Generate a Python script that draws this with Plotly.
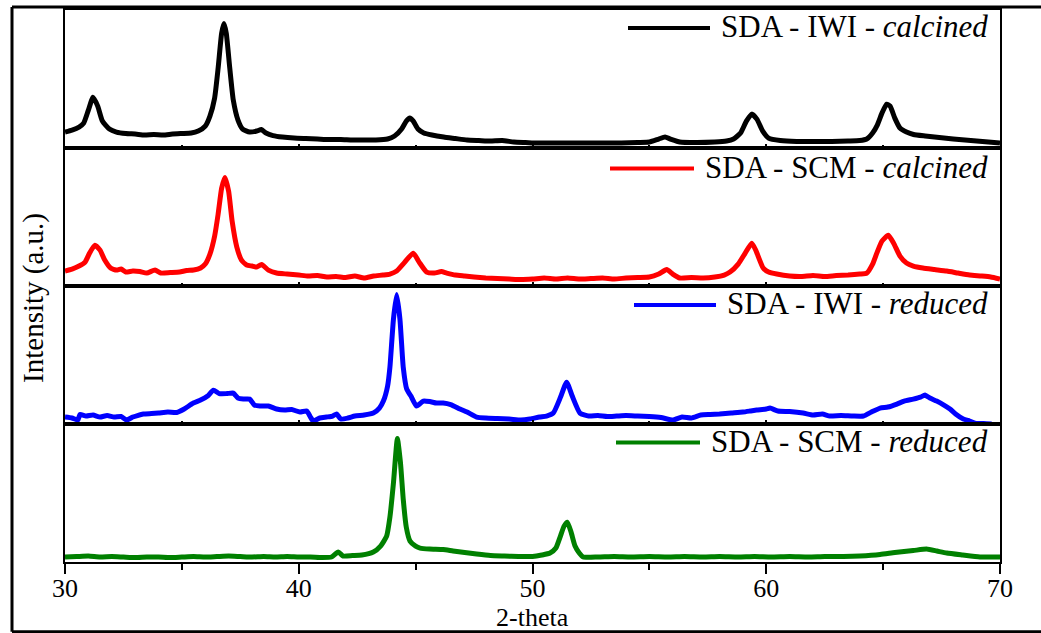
import plotly.graph_objects as go
from plotly.subplots import make_subplots

# ---------------- data (2-theta, intensity a.u.) ----------------
iwi_cal_x = [30.0, 30.3, 30.6, 30.8, 31.0, 31.2, 31.4, 31.6, 31.9, 32.2, 32.6, 33.0, 33.4, 33.8, 34.2, 34.6,
             35.0, 35.4, 35.7, 36.0, 36.2, 36.4, 36.55, 36.7, 36.8, 36.9, 37.05, 37.2, 37.4, 37.6, 37.9, 38.2,
             38.4, 38.6, 38.9, 39.3, 39.8, 40.3, 40.8, 41.3, 41.8, 42.3, 42.8, 43.3, 43.8, 44.1, 44.4, 44.6,
             44.75, 44.9, 45.1, 45.35, 45.7, 46.2, 46.7, 47.2, 47.7, 48.2, 48.7, 49.2, 49.7, 50.2, 50.8, 51.5,
             52.2, 53.0, 53.8, 54.5, 55.0, 55.4, 55.67, 55.9, 56.3, 57.0, 57.8, 58.3, 58.6, 58.9, 59.15, 59.38,
             59.6, 59.85, 60.1, 60.6, 61.3, 62.0, 62.8, 63.5, 64.0, 64.3, 64.55, 64.75, 64.95, 65.15, 65.3, 65.5,
             65.72, 66.0, 66.3, 66.8, 67.4, 68.0, 68.5, 69.0, 69.5, 70.0]
iwi_cal_y = [16, 18, 21, 25, 38, 51, 42, 27, 19, 16, 14.5, 14, 13, 13.5, 13, 14,
             14.5, 15, 17, 22, 32, 50, 80, 115, 125, 115, 80, 48, 28, 19, 16, 17,
             18.5, 15, 12.5, 11, 10, 9.5, 9, 8.5, 8.5, 8, 8, 8, 9, 12, 19, 27,
             30, 27, 19, 15, 13, 11, 9.5, 8, 7.5, 7, 7.5, 6, 5.5, 5, 5, 5,
             5, 5, 5, 5.5, 6, 9, 11, 9, 6, 5.5, 6, 7, 9, 15, 27, 34,
             29, 17, 10, 7.5, 6.5, 6.5, 6.5, 7, 7.5, 9, 15, 23, 35, 44, 42, 30,
             20, 16, 13.5, 12, 10.5, 9, 8, 7, 6, 5]

scm_cal_x = [30.0, 30.3, 30.6, 30.86, 31.05, 31.28, 31.5, 31.7, 31.95, 32.2, 32.4, 32.6, 32.9, 33.2, 33.5, 33.85,
             34.1, 34.5, 34.9, 35.2, 35.5, 35.8, 36.0, 36.2, 36.4, 36.55, 36.7, 36.84, 37.0, 37.15, 37.35, 37.55,
             37.77, 38.0, 38.2, 38.41, 38.7, 39.05, 39.5, 40.0, 40.4, 40.8, 41.2, 41.6, 42.0, 42.4, 42.8, 43.2,
             43.6, 43.9, 44.19, 44.5, 44.9, 45.15, 45.47, 45.8, 46.1, 46.33, 46.7, 47.1, 47.5, 48.0, 48.5, 49.0,
             49.5, 50.0, 50.5, 51.0, 51.5, 52.0, 52.5, 53.0, 53.5, 54.0, 54.5, 55.0, 55.4, 55.74, 56.0, 56.3,
             56.8, 57.3, 57.8, 58.2, 58.45, 58.8, 59.1, 59.38, 59.55, 59.87, 60.1, 60.45, 61.0, 61.5, 62.0, 62.5,
             63.0, 63.5, 64.0, 64.3, 64.55, 64.73, 64.95, 65.22, 65.45, 65.72, 66.0, 66.29, 66.7, 67.2, 67.72, 68.2,
             68.7, 69.2, 69.6, 70.0]
scm_cal_y = [15, 17, 20, 24, 33, 41, 36, 26, 18, 16, 17, 14, 15, 14.5, 13, 16,
             13, 13.5, 14, 15.5, 16, 18, 22, 32, 50, 72, 98, 109, 95, 65, 39, 26,
             21, 20, 19, 21.5, 16, 13, 12, 11, 10, 10.5, 9, 9.5, 8.5, 10, 8, 10,
             11, 12, 15, 23, 33, 24, 14, 13, 14.5, 13, 11, 10, 9, 8, 7.5, 7,
             6.5, 7, 8, 7, 8, 7, 7.5, 8, 7, 8, 8.5, 9, 12, 16.5, 12, 8,
             8.5, 8, 9, 11, 14, 22, 33, 43, 36, 18, 14, 12, 10, 9.5, 10.5, 9.5,
             10.5, 11, 12, 13, 22, 33, 45, 51, 43, 30, 23, 20, 18, 16.5, 15, 13,
             11, 10, 9, 7]

iwi_red_x = [30.0, 30.3, 30.55, 30.64, 30.9, 31.2, 31.5, 31.8, 32.1, 32.4, 32.64, 32.9, 33.1, 33.35, 33.7, 34.0,
             34.4, 34.78, 35.1, 35.49, 35.8, 36.1, 36.35, 36.6, 36.92, 37.2, 37.4, 37.63, 37.9, 38.1, 38.34, 38.7,
             39.05, 39.4, 39.7, 40.05, 40.34, 40.5, 40.62, 40.9, 41.19, 41.45, 41.62, 41.8, 42.1, 42.4, 42.8, 43.19,
             43.45, 43.62, 43.8, 43.9, 44.05, 44.19, 44.33, 44.47, 44.62, 44.8, 45.04, 45.33, 45.6, 45.9, 46.18, 46.5,
             46.9, 47.2, 47.61, 48.0, 48.5, 49.0, 49.5, 49.89, 50.3, 50.6, 50.89, 51.2, 51.46, 51.7, 52.03, 52.4,
             52.8, 53.2, 53.6, 54.0, 54.5, 55.0, 55.5, 56.02, 56.4, 56.8, 57.2, 57.6, 58.0, 58.5, 59.0, 59.3,
             59.59, 60.0, 60.16, 60.5, 61.0, 61.58, 62.0, 62.4, 62.72, 63.2, 63.7, 64.16, 64.5, 64.87, 65.2, 65.59,
             65.9, 66.29, 66.6, 66.79, 67.0, 67.29, 67.6, 67.86, 68.1, 68.43, 68.7, 69.0, 69.3, 69.64]
iwi_red_y = [7, 6, 4, 9.5, 8, 9, 7, 8.5, 7, 7.5, 4, 7, 8.5, 10, 10.5, 11,
             12, 11.5, 15, 21, 24, 28, 34, 30.5, 30.5, 31, 26, 25, 25, 19, 18, 18,
             15, 14, 14.5, 12, 13, 7, 3, 6, 7, 8, 10, 5, 6, 8, 9, 11,
             16, 23, 38, 57, 105, 130, 105, 57, 35, 28, 18, 23, 22.5, 21, 21, 19.5,
             15, 12, 7, 6, 5.5, 5, 4, 5, 7, 8, 11, 27, 42, 28, 11, 8,
             8.5, 7.5, 8, 8.5, 8, 7.5, 6.5, 4, 7, 6, 9, 9.5, 10, 11, 12, 13,
             14, 15, 16, 13, 12.5, 11, 9, 10, 8, 8.5, 8, 8, 12, 16, 17, 20,
             23, 25, 27, 29, 26, 23, 19, 15, 10, 5, 3, 0.5, 0.5, 0]

scm_red_x = [30.0, 30.5, 31.0, 31.5, 32.0, 32.5, 33.0, 33.5, 34.0, 34.5, 35.0, 35.5, 36.0, 36.5, 37.0, 37.5,
             38.0, 38.5, 39.0, 39.5, 40.0, 40.5, 41.0, 41.4, 41.69, 41.9, 42.3, 42.7, 43.19, 43.5, 43.76, 43.9,
             44.05, 44.22, 44.35, 44.47, 44.6, 44.76, 45.0, 45.19, 45.6, 46.18, 46.6, 47.1, 47.61, 48.2, 48.8, 49.4,
             50.0, 50.4, 50.75, 51.0, 51.18, 51.35, 51.49, 51.65, 51.82, 52.0, 52.17, 52.8, 53.5, 54.2, 55.0, 55.8,
             56.5, 57.3, 58.0, 58.8, 59.5, 60.2, 61.0, 61.8, 62.5, 63.3, 64.0, 64.87, 65.5, 66.29, 66.86, 67.3,
             67.72, 68.4, 69.14, 69.6, 70.0]
scm_red_y = [5, 5.5, 6, 5, 5.5, 5, 4.5, 5, 5, 4.5, 5, 5.5, 5, 5.5, 6, 5.5,
             5, 5.5, 5, 5.5, 5, 5, 4.5, 5, 10, 6, 6.5, 7, 10, 16, 26, 45,
             79, 124, 100, 63, 35, 21, 16, 14, 13, 12.5, 11, 9.5, 8, 6.5, 6, 5.5,
             5.5, 7, 9, 14, 25, 36, 40, 30, 16, 9, 5, 5, 5.5, 5, 5.5, 5,
             5.5, 5, 5.5, 5, 5.5, 5, 5.5, 5, 5.5, 5.5, 6, 7.5, 9.5, 11.5, 13, 11,
             9, 7, 5, 5, 5]

series_names = ["SDA - IWI - <i>calcined</i>", "SDA - SCM - <i>calcined</i>",
                "SDA - IWI - <i>reduced</i>", "SDA - SCM - <i>reduced</i>"]
series_colors = ["#000000", "#FF0000", "#0000FF", "#008000"]
x_ticks = [30, 40, 50, 60, 70]

series_x = [iwi_cal_x, scm_cal_x, iwi_red_x, scm_red_x]
series_y = [iwi_cal_y, scm_cal_y, iwi_red_y, scm_red_y]

# ---------------- layout helpers (pixel -> paper) ----------------
W, H = 1041, 633
L, R, T, B = 65, 41, 8, 71
PW, PH = W - L - R, H - T - B


def px(x):
    return (x - L) / PW


def py(y):
    return (H - B - y) / PH


fig = make_subplots(rows=4, cols=1, shared_xaxes=True, vertical_spacing=0)

FONT = "Liberation Serif"

for i in range(4):
    fig.add_trace(go.Scatter(x=series_x[i], y=series_y[i], mode="lines",
                             line=dict(color=series_colors[i], width=5, shape="spline", smoothing=0.5),
                             showlegend=False, hoverinfo="skip"), row=i + 1, col=1)

for i in range(1, 5):
    fig.update_yaxes(range=[0, PH / 4], showticklabels=False, ticks="", showgrid=False, zeroline=False,
                     showline=True, mirror=True, linecolor="black", linewidth=2, row=i, col=1)
    bottom = (i == 4)
    fig.update_xaxes(range=[30, 70], showgrid=False, zeroline=False, showline=True, mirror=True,
                     linecolor="black", linewidth=2,
                     tickvals=x_ticks, showticklabels=bottom,
                     ticks="outside" if bottom else "inside", ticklen=10 if bottom else 4,
                     tickwidth=2, tickcolor="black",
                     minor=dict(ticks="outside" if bottom else "inside", ticklen=6 if bottom else 3,
                                dtick=5, tickwidth=2, tickcolor="black"),
                     tickfont=dict(family=FONT, size=26, color="black"),
                     row=i, col=1)
fig.update_xaxes(ticklabelstandoff=-8, row=4, col=1)

# legend-like labels in each panel
label_y = [25, 166, 303, 441]
line_start = [628, 610, 634, 616]
line_end = [710, 694, 716, 700]
for i in range(4):
    fig.add_annotation(x=px(990), y=py(label_y[i]), xref="paper", yref="paper", xanchor="right",
                       yanchor="middle", text=series_names[i], showarrow=False,
                       font=dict(family=FONT, size=31, color="black"))
    fig.add_shape(type="line", xref="paper", yref="paper", x0=px(line_start[i]), x1=px(line_end[i]),
                  y0=py(label_y[i] + 1), y1=py(label_y[i] + 1),
                  line=dict(color=series_colors[i], width=4))

# axis titles
fig.add_annotation(x=0.5, y=py(618), xref="paper", yref="paper", xanchor="center", yanchor="middle",
                   text="2-theta", showarrow=False, font=dict(family=FONT, size=26, color="black"))
fig.add_annotation(x=px(34), y=py(297), xref="paper", yref="paper", xanchor="center", yanchor="middle",
                   text="Intensity (a.u.)", textangle=-90, showarrow=False,
                   font=dict(family=FONT, size=29, color="black"))

# outer frame
for x0, y0, x1, y1 in [(12, 5, 1045, 5), (12, 5, 12, 632), (12, 632, 1045, 632)]:
    fig.add_shape(type="line", xref="paper", yref="paper", x0=px(x0), y0=py(y0), x1=px(x1), y1=py(y1),
                  line=dict(color="black", width=3))

fig.update_layout(width=W, height=H, margin=dict(l=L, r=R, t=T, b=B),
                  paper_bgcolor="white", plot_bgcolor="white",
                  font=dict(family=FONT, color="black"))

fig.write_html("out.html", config={"displayModeBar": False},
               post_script="document.body.style.margin='0';document.body.style.overflow='hidden';")
